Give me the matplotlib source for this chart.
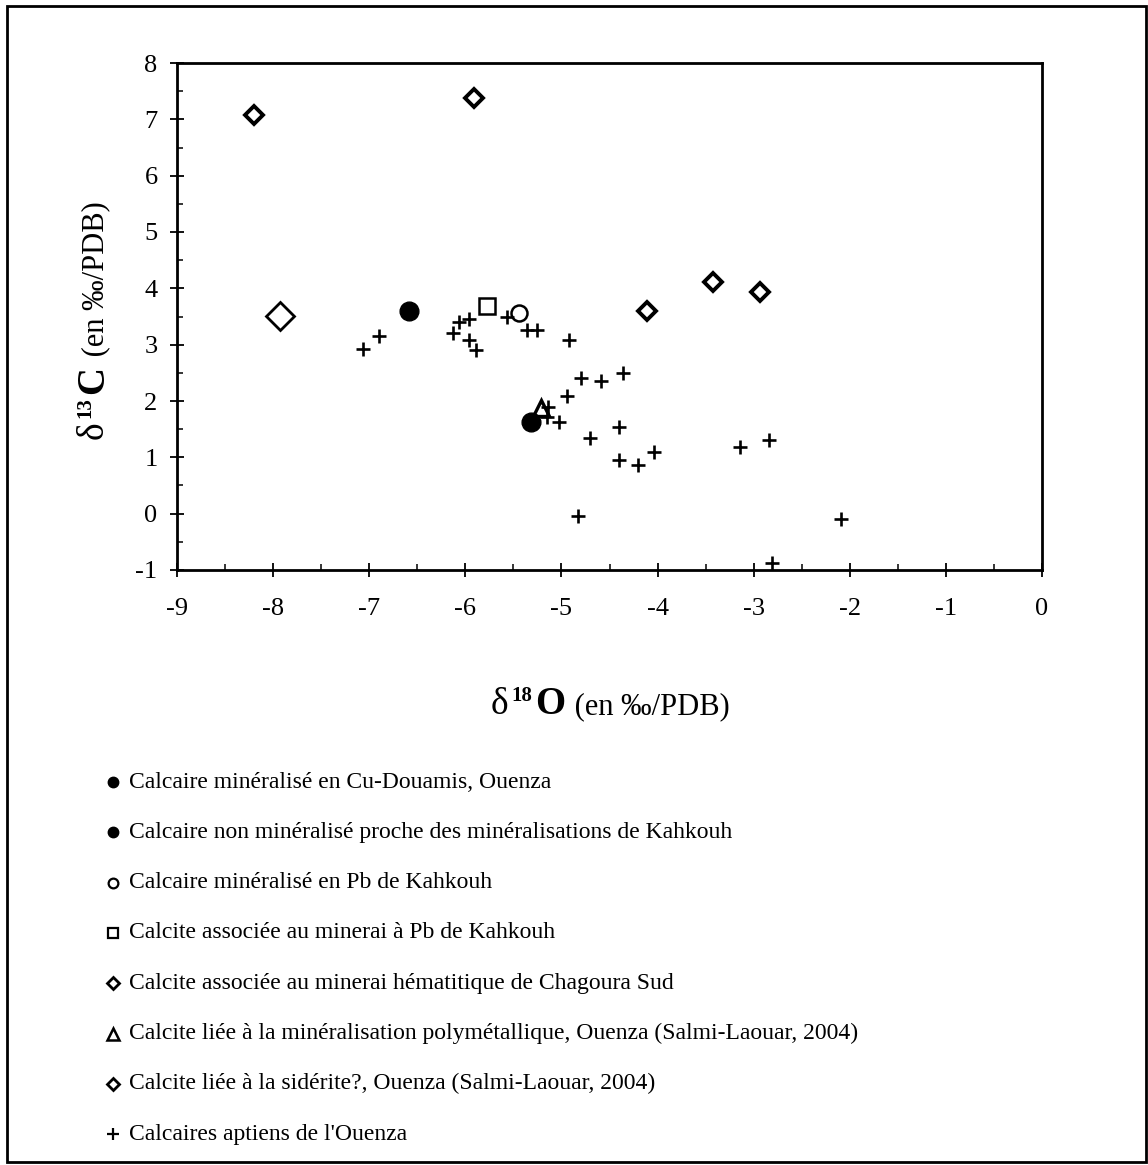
import matplotlib
matplotlib.use("Agg")
import matplotlib.pyplot as plt
from matplotlib.lines import Line2D
from matplotlib.patches import Rectangle
from matplotlib.ticker import MultipleLocator

plt.rcParams['font.family'] = ['Liberation Serif', 'DejaVu Serif']

W, H = 1148, 1165

# ---------------- data ----------------
cu_douamis_x = [-5.32]
cu_douamis_y = [1.62]

kahkouh_nonmin_x = [-6.59]
kahkouh_nonmin_y = [3.60]

kahkouh_pb_x = [-5.44]
kahkouh_pb_y = [3.56]

calcite_pb_x = [-5.77]
calcite_pb_y = [3.69]

chagoura_x = [-7.93]
chagoura_y = [3.51]

polymet_x = [-5.21]
polymet_y = [1.88]

siderite_x = [-8.20, -5.91, -4.11, -3.42, -2.93]
siderite_y = [7.08, 7.38, 3.60, 4.11, 3.93]

aptien_x = [-7.06, -6.90, -6.07, -5.96, -6.13, -5.96, -5.89, -5.57, -5.36, -5.25,
            -4.92, -4.80, -4.59, -4.36, -4.94, -5.14, -5.03, -5.15, -4.70, -4.40,
            -4.40, -4.20, -4.04, -3.14, -2.84, -2.09, -2.81, -4.83]
aptien_y = [2.92, 3.15, 3.41, 3.45, 3.20, 3.09, 2.91, 3.50, 3.26, 3.26,
            3.08, 2.40, 2.35, 2.50, 2.08, 1.90, 1.63, 1.72, 1.34, 1.53,
            0.95, 0.86, 1.09, 1.19, 1.30, -0.10, -0.88, -0.04]

x_ticks = [-9, -8, -7, -6, -5, -4, -3, -2, -1, 0]
y_ticks = [-1, 0, 1, 2, 3, 4, 5, 6, 7, 8]

legend_labels = [
    "Calcaire minéralisé en Cu-Douamis, Ouenza",
    "Calcaire non minéralisé proche des minéralisations de Kahkouh",
    "Calcaire minéralisé en Pb de Kahkouh",
    "Calcite associée au minerai à Pb de Kahkouh",
    "Calcite associée au minerai hématitique de Chagoura Sud",
    "Calcite liée à la minéralisation polymétallique, Ouenza (Salmi-Laouar, 2004)",
    "Calcite liée à la sidérite?, Ouenza (Salmi-Laouar, 2004)",
    "Calcaires aptiens de l'Ouenza",
]

# ---------------- figure ----------------
fig = plt.figure(figsize=(W / 100, H / 100), dpi=100)
fig.patch.set_facecolor('white')

ax_l, ax_r, ax_t, ax_b = 177, 1042, 63, 570
ax = fig.add_axes([ax_l / W, 1 - ax_b / H, (ax_r - ax_l) / W, (ax_b - ax_t) / H])
ax.set_xlim(-9, 0)
ax.set_ylim(-1, 8)
ax.set_xticks(x_ticks)
ax.set_yticks(y_ticks)
ax.set_xticklabels([str(v) for v in x_ticks])
ax.set_yticklabels([str(v) for v in y_ticks])
ax.xaxis.set_minor_locator(MultipleLocator(0.5))
ax.yaxis.set_minor_locator(MultipleLocator(0.5))
ax.tick_params(which='major', direction='inout', length=10, width=1.3,
               labelsize=19, color='black')
ax.tick_params(axis='x', which='major', pad=15)
ax.tick_params(axis='y', which='major', pad=9)
ax.tick_params(which='minor', direction='in', length=4.5, width=1.1)
for sp in ax.spines.values():
    sp.set_linewidth(2.0)
    sp.set_color('black')

k = 'black'
ax.plot(aptien_x, aptien_y, ls='none', marker='+', ms=10, mew=1.9, color=k, zorder=3)
ax.plot(cu_douamis_x, cu_douamis_y, ls='none', marker='o', ms=13.5, mfc=k, mec=k, zorder=4)
ax.plot(kahkouh_nonmin_x, kahkouh_nonmin_y, ls='none', marker='o', ms=13.5, mfc=k, mec=k, zorder=4)
ax.plot(kahkouh_pb_x, kahkouh_pb_y, ls='none', marker='o', ms=11.5, mfc='none', mec=k, mew=1.8, zorder=4)
ax.plot(calcite_pb_x, calcite_pb_y, ls='none', marker='s', ms=12, mfc='none', mec=k, mew=1.8, zorder=4)
ax.plot(chagoura_x, chagoura_y, ls='none', marker='D', ms=14.5, mfc='none', mec=k, mew=2.0, zorder=4)
ax.plot(polymet_x, polymet_y, ls='none', marker='^', ms=12, mfc='none', mec=k, mew=2.4, zorder=4)
ax.plot(siderite_x, siderite_y, ls='none', marker='D', ms=9, mfc='none', mec=k, mew=2.8, zorder=4)

renderer = fig.canvas.get_renderer()


def layout(pieces, anchor, vertical=False):
    """pieces: list of (text, size, weight, rise_px, gap_px_after). anchor: (center_px, baseline_px)"""
    objs = []
    for s, size, weight, rise, gap in pieces:
        t = fig.text(0, 0, s, fontsize=size, fontweight=weight, color='black',
                     rotation=90 if vertical else 0, rotation_mode='anchor',
                     ha='left', va='baseline')
        objs.append((t, rise, gap))
    lengths = []
    for t, rise, gap in objs:
        bb = t.get_window_extent(renderer)
        lengths.append((bb.height if vertical else bb.width) + gap)
    total = sum(lengths)
    c, base = anchor
    pos = c - total / 2 if not vertical else c + total / 2
    for (t, rise, gap), L in zip(objs, lengths):
        if vertical:
            t.set_position(((base - rise) / W, 1 - pos / H))
            pos -= L
        else:
            t.set_position((pos / W, 1 - (base - rise) / H))
            pos += L


# x label
layout([("δ", 27, 'normal', 0, 3), ("18", 15, 'bold', 13, 3), ("O", 28, 'bold', 0, 2),
        (" (en ‰/PDB)", 22, 'normal', 0, 0)], (610, 714))
# y label
layout([("δ", 27, 'normal', 0, 3), ("13", 15, 'bold', 13, 3), ("C", 28, 'bold', 0, 2),
        (" (en ‰/PDB)", 22, 'normal', 0, 0)], (320, 103), vertical=True)

# legend
leg_styles = [
    dict(marker='o', ms=7.5, mfc=k, mec=k, mew=1),
    dict(marker='o', ms=7.5, mfc=k, mec=k, mew=1),
    dict(marker='o', ms=7, mfc='none', mec=k, mew=1.6),
    dict(marker='s', ms=7.5, mfc='none', mec=k, mew=1.6),
    dict(marker='D', ms=6, mfc='none', mec=k, mew=2.0),
    dict(marker='^', ms=8, mfc='none', mec=k, mew=1.8),
    dict(marker='D', ms=6, mfc='none', mec=k, mew=2.0),
    dict(marker='+', ms=9, mfc='none', mec=k, mew=1.6),
]
for i, (lab, st) in enumerate(zip(legend_labels, leg_styles)):
    yp = 782 + 50.3 * i
    fig.add_artist(Line2D([113 / W], [1 - yp / H], transform=fig.transFigure, ls='none', **st))
    fig.text(129 / W, 1 - yp / H, lab, fontsize=17, color='black', ha='left', va='center')

# outer frame
fig.add_artist(Rectangle((7 / W, 1 - 1162 / H), (1146 - 7) / W, (1162 - 6) / H,
                         transform=fig.transFigure, fill=False, lw=2.0, ec='black'))

fig.savefig("out.png", dpi=100, facecolor='white')
